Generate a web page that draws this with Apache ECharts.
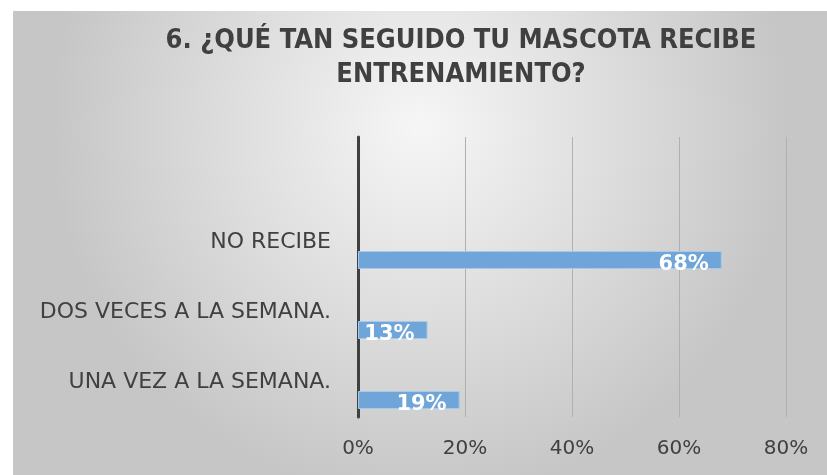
<!DOCTYPE html>
<html><head><meta charset="utf-8">
<script src="https://cdn.jsdelivr.net/npm/echarts@6/dist/echarts.min.js"></script>
<style>html,body{margin:0;padding:0;background:#fff;}#c{width:827px;height:475px;}</style>
</head><body><div id="c"></div>
<script>
var categories = ['', 'NO RECIBE', 'DOS VECES A LA SEMANA.', 'UNA VEZ A LA SEMANA.'];
var values = ['-', 0.68, 0.13, 0.19];
var spacer = ['-', '-', '-', '-'];
var xTicks = [0, 0.2, 0.4, 0.6, 0.8];
var titleText = '6. ¿QUÉ TAN SEGUIDO TU MASCOTA RECIBE\nENTRENAMIENTO?';

var chart = echarts.init(document.getElementById('c'), null, {renderer: 'canvas'});
var FONT = 'DejaVu Sans';
chart.setOption({
  animation: false,
  graphic: [{
    type: 'rect', z: -10, silent: true,
    shape: {x: 13, y: 11, width: 814, height: 464},
    style: {fill: {type: 'radial', x: 0.5, y: 0.25, r: 0.8,
      colorStops: [{offset: 0, color: '#f6f6f6'}, {offset: 1, color: '#c6c6c6'}]}}
  }],
  title: {
    text: titleText, left: 456, top: 19, textAlign: 'center',
    textStyle: {fontFamily: 'DejaVu Sans Condensed', fontWeight: 'bold', fontSize: 27, color: '#404040', lineHeight: 34}
  },
  grid: {left: 358, right: 41, top: 137, bottom: 58, containLabel: false},
  xAxis: {
    type: 'value', min: xTicks[0], max: xTicks[xTicks.length - 1], interval: 0.2,
    axisLine: {show: false}, axisTick: {show: false},
    splitLine: {show: true, lineStyle: {color: '#b0b0b0', width: 1}},
    axisLabel: {margin: 22, fontFamily: FONT, fontSize: 20, color: '#404040',
      formatter: function (v) { return Math.round(v * 100) + '%'; }}
  },
  yAxis: {
    type: 'category', data: categories, inverse: true,
    axisLine: {show: true, lineStyle: {color: '#404040', width: 3}},
    axisTick: {show: false},
    axisLabel: {margin: 27, fontFamily: FONT, fontSize: 22, color: '#404040'}
  },
  series: [
    {type: 'bar', data: spacer, barWidth: 18, barGap: '100%', silent: true},
    {type: 'bar', data: values, barWidth: 18, barGap: '100%',
      itemStyle: {color: '#6fa5d8', borderColor: '#a9c9ea', borderWidth: 1},
      label: {show: true, position: 'insideRight', offset: [-8, 5], color: '#fff',
        fontFamily: FONT, fontWeight: 'bold', fontSize: 21,
        formatter: function (p) { return Math.round(p.value * 100) + '%'; }}}
  ]
});
</script></body></html>
